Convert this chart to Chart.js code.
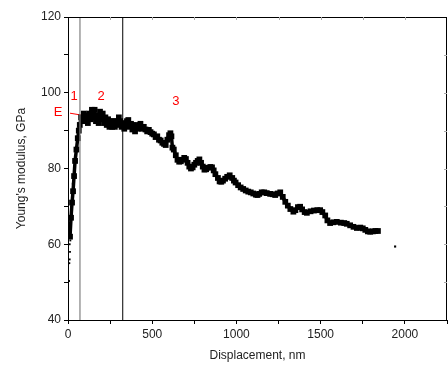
<!DOCTYPE html>
<html>
<head>
<meta charset="utf-8" />
<script src="https://cdn.jsdelivr.net/npm/chart.js"></script>
<style>
  html, body { margin: 0; padding: 0; background: #fff; }
  #wrap { width: 448px; height: 367px; }
</style>
</head>
<body>
<div id="wrap"><canvas id="chart"></canvas></div>
<script>
// main measured curve
const dispMain = [12,18,24,30,36,42,50,58,64,70,78,86,94,102,110,118,126,134,142,150,158,166,174,182,190,198,206,214,222,230,238,246,254,262,270,278,286,294,302,310,318,326,334,342,350,358,366,374,382,390,398,406,414,422,430,440,450,460,470,480,490,500,510,520,530,540,550,560,570,580,590,600,608,614,620,628,640,650,660,670,680,690,700,710,720,730,740,750,760,770,780,790,800,810,820,830,845,855,865,875,890,900,910,920,933,945,960,975,985,995,1010,1025,1040,1055,1070,1085,1100,1115,1125,1135,1150,1165,1180,1200,1215,1230,1245,1260,1275,1290,1305,1320,1338,1350,1365,1378,1390,1405,1418,1440,1460,1480,1497,1510,1527,1540,1556,1575,1596,1620,1640,1655,1675,1695,1715,1735,1750,1765,1780,1794,1810,1825,1840];
const modMain = [62,67,71,74,78,82,85,88,90,91.5,93.5,92.5,94.5,93,94,92,94.5,93,95.5,93.5,95.5,92.5,94,92,95,93,94.5,92,93.5,91.5,93,91,92.5,91,92.5,91,92.5,91.5,93.5,92.5,91,92,90.5,91.5,92.5,92.8,91,91.8,90.3,91.5,89.8,91.2,90.5,91.5,91.8,90.5,91,90.3,89.8,90.2,89.6,89.2,89,88.3,88.5,87.6,87.4,86.8,86.5,86.2,87.6,88.8,89.3,88.5,85.5,85,83.5,82.3,81.8,81.9,82.3,82.8,82.5,81.5,80.5,80,80.3,81,81.5,82,82.4,81.5,80.5,79.7,79.8,80.2,80.4,80.3,79.5,78.5,77.5,76.6,76.5,76.8,77.3,77.8,78.2,77.5,76.8,76.3,75.6,75,74.6,74.2,73.9,73.7,73.4,73.1,73,73.3,73.7,73.7,73.5,73.3,73.2,73,73.4,73.7,72.5,71.2,70.2,69.3,68.6,69,69.8,69.9,69.2,68.5,68.3,68.7,68.9,69,69,68.5,67.6,66.3,65.6,65.8,65.9,65.7,65.6,65.4,65,64.6,64.3,64.4,64.2,63.8,63.4,63.3,63.4,63.5,63.5];

// scattered start-up points and the lone last point
const dispEarly = [6,8,10,12,10,14,15,18,16,20,22,24,26,28];
const modEarly = [50.3,55,56,58,60,61,62,64,66,68,70,72,74,76];
const dispTail = [1942];
const modTail = [59.4];

// region boundaries and the E fit line
const boundaries = [71, 325];
const eLineX = [12, 297];
const eLineY = [94.6, 92.5];
const noteText = ['E', '1', '2', '3'];
const noteX = [-59, 36, 196, 641];
const noteY = [94.9, 98.9, 98.9, 97.8];

const xTicks = [0, 500, 1000, 1500, 2000];
const yTicks = [40, 60, 80, 100, 120];
const FONT = '"Liberation Sans", Arial, sans-serif';

const pts = (xs, ys) => xs.map((x, i) => ({ x: x, y: ys[i] }));

const frame = {
  id: 'frame',
  afterDraw(chart) {
    const { ctx, chartArea: a, scales } = chart;
    ctx.save();
    ctx.strokeStyle = '#000';
    ctx.lineWidth = 1;
    ctx.strokeRect(a.left + 0.5, a.top + 0.5, a.right - a.left - 1, a.bottom - a.top);
    // mirrored inward ticks on top and right
    ctx.strokeStyle = '#aaa';
    for (let v = 250; v < 2250; v += 250) {
      const px = Math.round(scales.x.getPixelForValue(v)) + 0.5;
      ctx.beginPath(); ctx.moveTo(px, a.top); ctx.lineTo(px, a.top + 3); ctx.stroke();
    }
    for (let v = 50; v < 120; v += 10) {
      const py = Math.round(scales.y.getPixelForValue(v)) + 0.5;
      ctx.beginPath(); ctx.moveTo(a.right, py); ctx.lineTo(a.right - 3, py); ctx.stroke();
    }
    ctx.fillStyle = '#ff0000';
    ctx.font = '13px ' + FONT;
    ctx.textAlign = 'center';
    ctx.textBaseline = 'middle';
    noteText.forEach((t, i) => {
      ctx.fillText(t, scales.x.getPixelForValue(noteX[i]), scales.y.getPixelForValue(noteY[i]));
    });
    ctx.restore();
  }
};

new Chart(document.getElementById('chart'), {
  type: 'scatter',
  data: {
    datasets: [
      { data: pts([boundaries[0], boundaries[0]], [40, 120]), showLine: true, borderColor: '#808080', borderWidth: 1.2, pointRadius: 0 },
      { data: pts([boundaries[1], boundaries[1]], [40, 120]), showLine: true, borderColor: '#000', borderWidth: 1, pointRadius: 0 },
      { data: pts(dispEarly, modEarly), showLine: false, backgroundColor: '#000', borderColor: '#000', pointStyle: 'rect', pointRadius: 1.3, borderWidth: 0 },
      { data: pts(dispMain, modMain), showLine: true, borderColor: '#000', borderWidth: 3.5, borderJoinStyle: 'round', borderCapStyle: 'round', pointRadius: 1.6, pointStyle: 'rect', backgroundColor: '#000', tension: 0 },
      { data: pts(dispTail, modTail), showLine: false, backgroundColor: '#000', borderColor: '#000', pointStyle: 'rect', pointRadius: 1.5, borderWidth: 0 },
      { data: pts(eLineX, eLineY), showLine: true, borderColor: '#ff0000', borderWidth: 1, pointRadius: 0 }
    ]
  },
  options: {
    responsive: true,
    maintainAspectRatio: false,
    animation: false,
    layout: { autoPadding: false, padding: { top: 17, right: 1, left: 0, bottom: 0 } },
    plugins: { legend: { display: false }, tooltip: { enabled: false } },
    scales: {
      x: {
        type: 'linear', min: 0, max: 2250,
        afterFit: (s) => { s.height = 47; s.paddingLeft = 0; s.paddingRight = 0; },
        afterBuildTicks: (s) => { s.ticks = []; for (let v = 0; v <= 2250; v += 250) s.ticks.push({ value: v }); },
        border: { display: true, color: '#000', width: 1 },
        grid: { drawOnChartArea: false, color: '#000', tickLength: 4 },
        ticks: {
          color: '#222', padding: 3, maxRotation: 0, autoSkip: false,
          font: { family: FONT, size: 12 },
          callback: (v) => xTicks.includes(v) ? String(v) : ''
        },
        title: { display: true, text: 'Displacement, nm', color: '#222', padding: { top: 4 },
          font: { family: FONT, size: 12 } }
      },
      y: {
        type: 'linear', min: 40, max: 120,
        afterFit: (s) => { s.width = 68; },
        afterBuildTicks: (s) => { s.ticks = []; for (let v = 40; v <= 120; v += 10) s.ticks.push({ value: v }); },
        border: { display: true, color: '#000', width: 1 },
        grid: { drawOnChartArea: false, color: '#000', tickLength: 4 },
        ticks: {
          color: '#222', padding: 3, autoSkip: false,
          font: { family: FONT, size: 12 },
          callback: (v) => yTicks.includes(v) ? String(v) : ''
        },
        title: { display: true, text: "Young's modulus, GPa", color: '#222', padding: { top: 14, bottom: 0 },
          font: { family: FONT, size: 12 } }
      }
    }
  },
  plugins: [frame]
});
</script>
</body>
</html>
